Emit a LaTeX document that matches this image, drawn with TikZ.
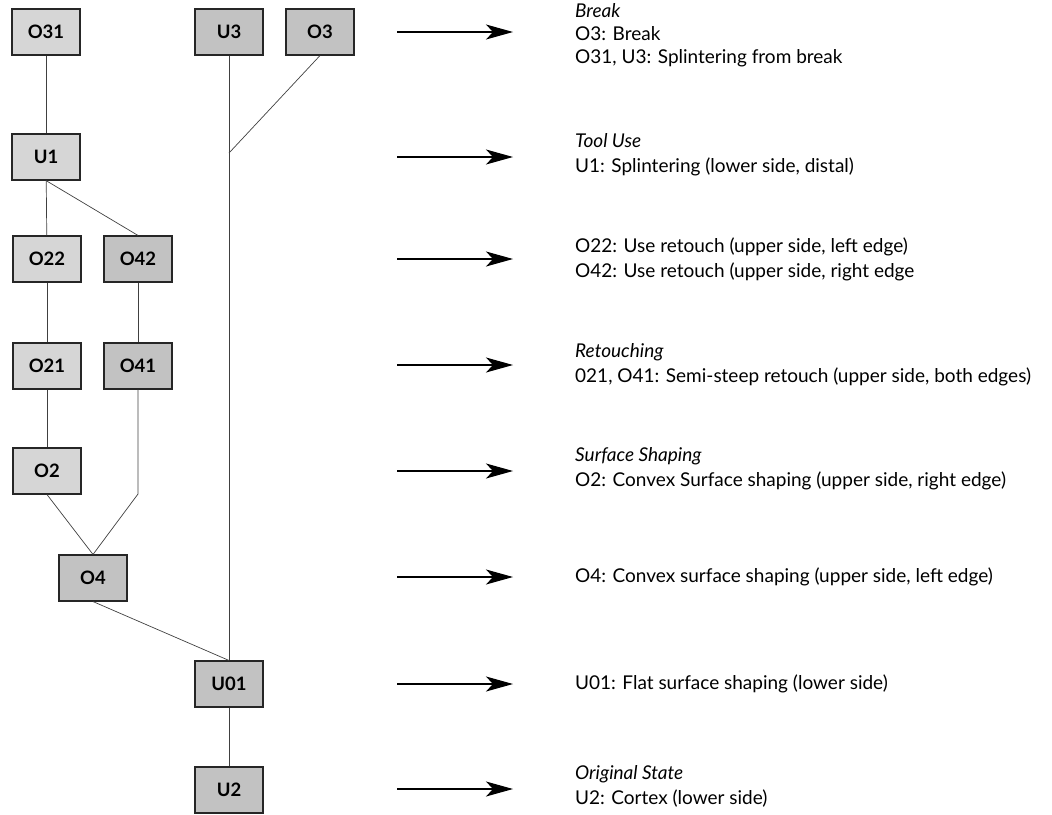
\documentclass[tikz,border=0pt]{standalone}
\usepackage{fontspec}
\setmainfont{Lato}
\usetikzlibrary{arrows.meta}
\definecolor{boxlight}{gray}{0.84}
\definecolor{boxdark}{gray}{0.76}
\begin{document}
\begin{tikzpicture}[x=1pt,y=-1pt,
  box/.style={draw=black!85,line width=1.1pt,minimum width=68pt,minimum height=46pt,inner sep=0pt,
    font=\fontsize{18.5}{20}\selectfont\bfseries},
  lbox/.style={box,fill=boxlight},
  dbox/.style={box,fill=boxdark},
  link/.style={draw=black!75,line width=0.7pt},
  stagearrow/.style={draw=black,line width=1.1pt,-{Stealth[length=27pt,width=15pt,inset=7pt]}},
  desc/.style={anchor=west,align=left,inner sep=0pt,font=\fontsize{19}{25}\selectfont}
]
\useasboundingbox (0,0) rectangle (1052,814);
% boxes
\node[lbox] (O31) at (46,32) {O31};
\node[dbox] (U3) at (229,32) {U3};
\node[dbox] (O3) at (320,32) {O3};
\node[lbox] (U1) at (46,157) {U1};
\node[lbox] (O22) at (47,259) {O22};
\node[dbox] (O42) at (138,259) {O42};
\node[lbox] (O21) at (47,366) {O21};
\node[dbox] (O41) at (138,366) {O41};
\node[lbox] (O2) at (47,471) {O2};
\node[dbox] (O4) at (93,578) {O4};
\node[dbox] (U01) at (229,684) {U01};
\node[dbox] (U2) at (229,790) {U2};
\coordinate (J3) at (229,153);
\coordinate (K41) at (138,494);
% connectors
\draw[link] (O31) -- (U1);
\draw[link] (U1) -- (O22);
\draw[link] (U1.south) -- (O42.north);
\draw[link] (O22) -- (O21);
\draw[link] (O42) -- (O41);
\draw[link] (O21) -- (O2);
\draw[link] (O41.south) -- (K41) -- (O4.north);
\draw[link] (O2.south) -- (O4.north);
\draw[link] (O4.south) -- (U01.north);
\draw[link] (U3.south) -- (U01.north);
\draw[link] (O3.south) -- (J3);
\draw[link] (U01) -- (U2);
% arrows
\foreach \n/\yy in {a1/32,a2/157,a3/259,a4/365,a5/471,a6/577,a7/684,a8/789}{
  \coordinate (\n s) at (397,\yy);
  \coordinate (\n e) at (513,\yy);
  \draw[stagearrow] (\n s) -- (\n e);
}
% descriptions
\node[desc,font=\fontsize{19}{23}\selectfont] (d1) at (575,35) {\textit{Break}\\O3: Break\\O31, U3: Splintering from break};
\node[desc] (d2) at (575,155) {\textit{Tool Use}\\U1: Splintering (lower side, distal)};
\node[desc] (d3) at (575,259) {O22: Use retouch (upper side, left edge)\\O42: Use retouch (upper side, right edge};
\node[desc] (d4) at (575,365) {\textit{Retouching}\\021, O41: Semi-steep retouch (upper side, both edges)};
\node[desc] (d5) at (575,469) {\textit{Surface Shaping}\\O2: Convex Surface shaping (upper side, right edge)};
\node[desc] (d6) at (575,577) {O4: Convex surface shaping (upper side, left edge)};
\node[desc] (d7) at (575,684) {U01: Flat surface shaping (lower side)};
\node[desc] (d8) at (575,786) {\textit{Original State}\\U2: Cortex (lower side)};
\end{tikzpicture}
\end{document}
